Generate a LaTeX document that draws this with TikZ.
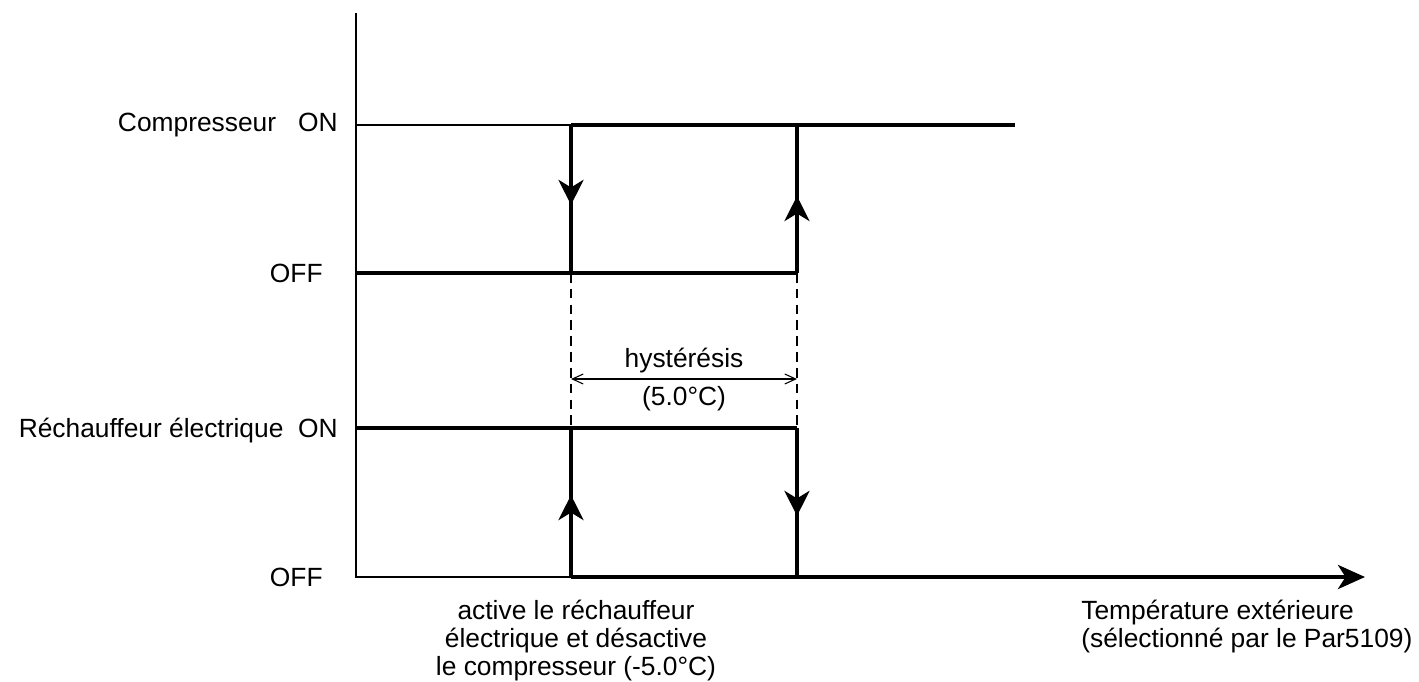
\documentclass[tikz,border=0pt]{standalone}
\usepackage{fontspec}
\setmainfont{Liberation Sans}
\usepackage{tikz}
\usetikzlibrary{arrows.meta,decorations.markings}
\tikzset{
  lvl/.style={line width=2.3pt, line join=miter},
  axisline/.style={line width=0.75pt},
  guide/.style={line width=0.6pt, dash pattern=on 5.5pt off 3.5pt},
  lbl/.style={inner sep=0pt, font=\fontsize{15}{15.8}\selectfont},
  flow/.style={postaction=decorate, decoration={markings,
    mark=at position #1 with {\arrow{Stealth[length=0.5cm, width=0.5cm, inset=0.15cm]}}}}
}

\begin{document}
\begin{tikzpicture}[x=0.02cm, y=-0.02cm]
  \useasboundingbox (0,0) rectangle (1419,682);
  % corners of the two switching loops
  \coordinate (yTop)   at (356,13);
  \coordinate (cOn0)   at (356,125);
  \coordinate (cOnA)   at (571,125);
  \coordinate (cOnB)   at (797,125);
  \coordinate (cOnEnd) at (1015,125);
  \coordinate (cOff0)  at (356,273);
  \coordinate (cOffA)  at (571,273);
  \coordinate (cOffB)  at (797,273);
  \coordinate (hOn0)   at (356,428);
  \coordinate (hOnA)   at (571,428);
  \coordinate (hOnB)   at (797,428);
  \coordinate (hOff0)  at (356,577);
  \coordinate (hOffA)  at (571,577);
  \coordinate (hOffB)  at (797,577);
  \coordinate (xEnd)   at (1365,577);
  \coordinate (hysL)   at (571,379);
  \coordinate (hysR)   at (797,379);

  % axes
  \draw[axisline] (yTop) -- (hOff0) -- (hOffA);
  \draw[axisline] (cOn0) -- (cOnA);
  \draw[lvl, -{Stealth[length=0.54cm, width=0.48cm, inset=0.15cm]}] (hOffA) -- (xEnd);

  % compresseur
  \draw[lvl] (cOnA) -- (cOnEnd);
  \draw[lvl] (cOff0) -- (cOffB);
  \draw[lvl, flow=0.54] (cOnA) -- (cOffA);
  \draw[lvl, flow=0.52] (cOffB) -- (cOnB);

  % rechauffeur
  \draw[lvl] (hOn0) -- (hOnB);
  \draw[lvl, flow=0.55] (hOffA) -- (hOnA);
  \draw[lvl, flow=0.59] (hOnB) -- (hOffB);

  % hysteresis band
  \draw[guide] (cOffA) -- (hOnA);
  \draw[guide] (cOffB) -- (hOnB);
  \draw[line width=0.6pt, {Straight Barb[length=0.22cm, width=0.2cm]}-{Straight Barb[length=0.22cm, width=0.2cm]}] (hysL) -- (hysR);
  \node[lbl, anchor=base] (hysTxt) at (684,367) {hystérésis};
  \node[lbl, anchor=base] (hysVal) at (684,405) {(5.0°C)};

  % level labels
  \node[lbl, anchor=base east] (cOnTxt)  at (338,132) {Compresseur\ \ \ ON};
  \node[lbl, anchor=base east] (cOffTxt) at (323,282) {OFF};
  \node[lbl, anchor=base east] (hOnTxt)  at (338,437) {Réchauffeur électrique\ \ ON};
  \node[lbl, anchor=base east] (hOffTxt) at (323,586) {OFF};

  % bottom notes
  \node[lbl, anchor=north, align=center] (switchTxt) at (576,600)
    {active le réchauffeur\\électrique et désactive\\le compresseur (-5.0°C)};
  \node[lbl, anchor=north west, align=left] (xTxt) at (1081,600)
    {Température extérieure\\(sélectionné par le Par5109)};
\end{tikzpicture}
\end{document}
